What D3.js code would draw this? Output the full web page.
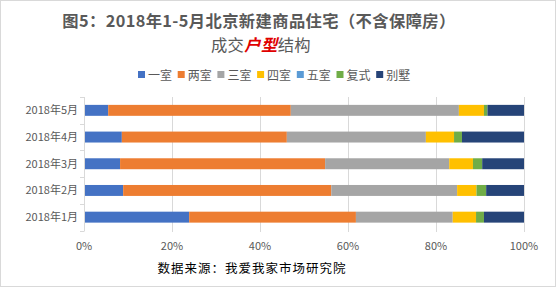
<!DOCTYPE html>
<html><head><meta charset="utf-8">
<script src="https://cdn.jsdelivr.net/npm/d3@7"></script>
<style>body{margin:0;background:#fff}svg{display:block}</style>
</head><body><svg id="c" width="556" height="287"></svg>
<script>
const categories = ["2018年5月","2018年4月","2018年3月","2018年2月","2018年1月"];
const seriesNames = ["一室","两室","三室","四室","五室","复式","别墅"];
const seriesColors = ["#4472C4","#ED7D31","#A5A5A5","#FFC000","#5B9BD5","#70AD47","#264478"];
const s1 = [5.5, 8.6, 8.2, 8.9, 23.9];
const s2 = [41.5, 37.5, 46.6, 47.3, 37.9];
const s3 = [38.2, 31.6, 28.2, 28.6, 22.0];
const s4 = [5.7, 6.4, 5.4, 4.4, 5.3];
const s5 = [0, 0, 0, 0, 0];
const s6 = [0.8, 1.8, 2.1, 2.2, 1.8];
const s7 = [8.3, 14.1, 9.5, 8.6, 9.1];
const xTicks = [0, 0.2, 0.4, 0.6, 0.8, 1.0];

const svg = d3.select("#c");
svg.append("rect").attr("x",0.5).attr("y",0.5).attr("width",555).attr("height",286)
  .attr("fill","#fff").attr("stroke","#d9d9d9");

const font = "'Microsoft YaHei','Noto Sans CJK SC',sans-serif";
// title
svg.append("text").attr("x",259).attr("y",27).attr("text-anchor","middle")
  .attr("font-family",font).attr("font-size",16.3).attr("letter-spacing",0.4).attr("font-weight","bold").attr("fill","#595959")
  .text("图5：2018年1-5月北京新建商品住宅（不含保障房）");
const t2 = svg.append("text").attr("x",261).attr("y",51).attr("text-anchor","middle")
  .attr("font-family",font).attr("font-size",16.3).attr("letter-spacing",0.4).attr("fill","#595959");
t2.append("tspan").text("成交");
t2.append("tspan").attr("fill","#E00000").attr("font-weight","bold").attr("font-style","italic").text("户型");
t2.append("tspan").text("结构");

// legend
const lg = svg.append("g");
seriesNames.forEach((n,i)=>{
  const x = 138 + i*39.7;
  lg.append("rect").attr("x",x).attr("y",71).attr("width",7).attr("height",7).attr("fill",seriesColors[i]);
  lg.append("text").attr("x",x+10).attr("y",79.5).attr("font-family",font).attr("font-size",12)
    .attr("fill","#595959").text(n);
});

const x = d3.scaleLinear().domain([0,1]).range([84,524]);
const y = d3.scaleBand().domain(categories).range([97,230.5]).paddingInner(0.59).paddingOuter(0.295);

// gridlines
svg.append("g").selectAll("line").data(xTicks.slice(1)).join("line")
  .attr("x1",d=>x(d)).attr("x2",d=>x(d)).attr("y1",97).attr("y2",232)
  .attr("stroke","#d9d9d9").attr("stroke-width",1).attr("shape-rendering","crispEdges");

// stacked bars
const rows = categories.map((c,i)=>{
  const o = {cat:c};
  [s1,s2,s3,s4,s5,s6,s7].forEach((s,j)=>o[seriesNames[j]]=s[i]);
  return o;
});
const stack = d3.stack().keys(seriesNames).offset(d3.stackOffsetExpand)(rows);
svg.append("g").selectAll("g").data(stack).join("g").attr("fill",(d,i)=>seriesColors[i])
  .selectAll("rect").data(d=>d).join("rect")
  .attr("x",d=>x(d[0])).attr("width",d=>Math.max(0,x(d[1])-x(d[0])))
  .attr("y",d=>y(d.data.cat)).attr("height",y.bandwidth());

// left axis
const ya = svg.append("g").attr("transform","translate(84,0)");
ya.append("line").attr("x1",0.5).attr("x2",0.5).attr("y1",97).attr("y2",231).attr("stroke","#d9d9d9");
const bounds = d3.range(6).map(i=>97 + i*(133.5/5));
ya.selectAll("line.t").data(bounds).join("line").attr("class","t")
  .attr("x1",-4).attr("x2",0.5).attr("y1",d=>Math.round(d)+0.5).attr("y2",d=>Math.round(d)+0.5).attr("stroke","#d9d9d9");
ya.selectAll("text").data(categories).join("text")
  .attr("x",-6).attr("y",d=>y(d)+y.bandwidth()/2+4).attr("text-anchor","end")
  .attr("font-family",font).attr("font-size",11).attr("fill","#595959").text(d=>d);

// bottom tick labels
svg.append("g").selectAll("text").data(xTicks).join("text")
  .attr("x",d=>x(d)).attr("y",249.5).attr("text-anchor","middle")
  .attr("font-family",font).attr("font-size",11).attr("fill","#595959").text(d=>d3.format(".0%")(d));

// source
svg.append("text").attr("x",252).attr("y",273).attr("text-anchor","middle")
  .attr("font-family",font).attr("font-size",12.5).attr("letter-spacing",1).attr("fill","#000")
  .text("数据来源：我爱我家市场研究院");
</script></body></html>
